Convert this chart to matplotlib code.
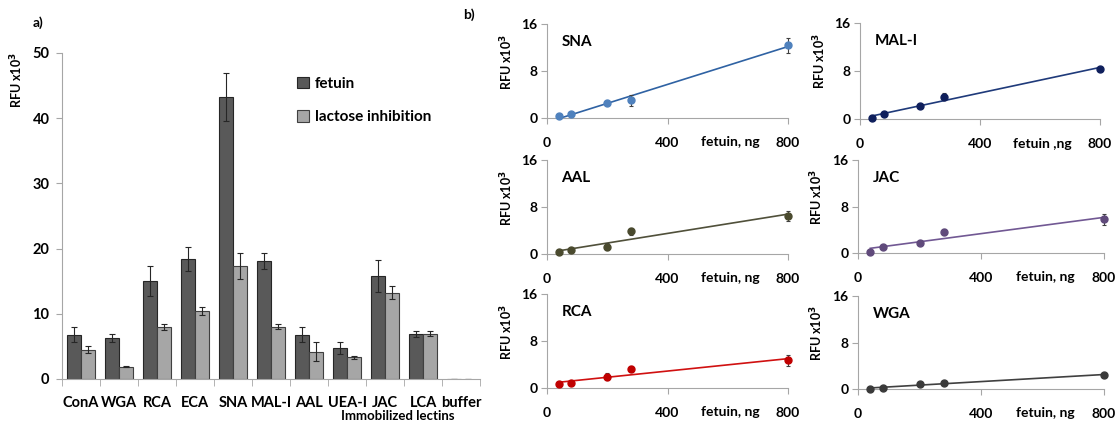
import matplotlib.pyplot as plt
import numpy as np

plt.rcParams["font.family"] = ["Lato", "DejaVu Sans"]
plt.rcParams["font.weight"] = "bold"

# ---- panel a data ----
lectins = ["ConA", "WGA", "RCA", "ECA", "SNA", "MAL-I", "AAL", "UEA-I", "JAC", "LCA", "buffer"]
fetuin = [6.8, 6.3, 15.0, 18.4, 43.3, 18.1, 6.8, 4.7, 15.8, 6.9, 0.05]
fetuin_err = [1.2, 0.6, 2.3, 1.9, 3.7, 1.2, 1.1, 0.9, 2.5, 0.45, 0.0]
lactose = [4.5, 1.9, 8.0, 10.4, 17.4, 8.0, 4.2, 3.3, 13.2, 6.95, 0.0]
lactose_err = [0.5, 0.1, 0.5, 0.6, 2.0, 0.4, 1.45, 0.3, 1.0, 0.4, 0.0]

# ---- panel b data ----
doses = [40, 80, 200, 280, 800]
curves = {
    "SNA": ([0.3, 0.7, 2.5, 3.0, 12.4], [0.2, 0.2, 0.3, 0.9, 1.3]),
    "MAL-I": ([0.2, 0.8, 2.15, 3.75, 8.4], [0.1, 0.1, 0.2, 0.6, 0.3]),
    "AAL": ([0.3, 0.7, 1.2, 3.9, 6.5], [0.1, 0.1, 0.6, 0.6, 0.8]),
    "JAC": ([0.2, 1.0, 1.8, 3.65, 5.8], [0.1, 0.1, 0.2, 0.5, 0.9]),
    "RCA": ([0.6, 0.85, 1.9, 3.2, 4.7], [0.1, 0.1, 0.6, 0.5, 0.9]),
    "WGA": ([0.0, 0.2, 0.85, 1.1, 2.4], [0.05, 0.1, 0.1, 0.1, 0.1]),
}
marker_col = {"SNA": "#4f81bd", "MAL-I": "#0f1f5c", "AAL": "#4a4a2e",
              "JAC": "#604a7b", "RCA": "#c00000", "WGA": "#3a3a3a"}
line_col = {"SNA": "#2f62a3", "MAL-I": "#1f3a7a", "AAL": "#50503a",
            "JAC": "#715893", "RCA": "#d01010", "WGA": "#404040"}
xlab = {"SNA": "fetuin, ng", "MAL-I": "fetuin ,ng", "AAL": "fetuin, ng",
        "JAC": "fetuin, ng", "RCA": "fetuin, ng", "WGA": "fetuin, ng"}

spine_col = "#a6a6a6"
W, H = 1118, 422
fig = plt.figure(figsize=(W / 100, H / 100), dpi=100)


def px(x0, y0, x1, y1):
    return [x0 / W, 1 - y1 / H, (x1 - x0) / W, (y1 - y0) / H]


# ==========================================
# a) bar chart
# ==========================================
ax = fig.add_axes(px(62, 53, 480, 379))
x = np.arange(len(lectins))
bw = 0.36
ebar = dict(ecolor="#262626", elinewidth=0.8, capsize=2, capthick=0.8)
ax.bar(x - bw / 2, fetuin, bw, yerr=fetuin_err, color="#595959", edgecolor="#262626",
       linewidth=0.8, error_kw=ebar, label="fetuin")
lw_lac = [0.8 if v > 0 else 0 for v in lactose]
ax.bar(x + bw / 2, lactose, bw, yerr=lactose_err, color="#a6a6a6", edgecolor="#404040",
       linewidth=lw_lac, error_kw=ebar, label="lactose inhibition")
ax.set_xlim(-0.5, len(lectins) - 0.5)
ax.set_ylim(0, 50)
ax.set_yticks([0, 10, 20, 30, 40, 50])
ax.set_xticks(x)
ax.set_xticklabels(lectins, fontsize=10.5, fontweight="bold")
ax.set_xticks(np.arange(len(lectins) + 1) - 0.5, minor=True)
ax.tick_params(axis="x", which="major", length=0, pad=12)
ax.tick_params(axis="x", which="minor", length=5, color=spine_col, direction="out")
ax.tick_params(axis="y", length=4, color=spine_col, pad=5, labelsize=10.5)
for lab in ax.get_yticklabels():
    lab.set_fontweight("bold")
for s in ["top", "right"]:
    ax.spines[s].set_visible(False)
for s in ["left", "bottom"]:
    ax.spines[s].set_color(spine_col)
ax.legend(loc="upper left", bbox_to_anchor=(0.53, 0.97), frameon=False,
          handlelength=0.75, handleheight=0.75, handletextpad=0.4, labelspacing=1.3,
          prop=dict(size=11, weight="bold"))
fig.text(17 / W, 1 - 80 / H, "RFU x10$^3$", rotation=90, ha="center", va="center",
         fontsize=9, fontweight="bold")
fig.text(33 / W, 1 - 23 / H, "a)", ha="left", va="center", fontsize=10, fontweight="bold")
fig.text(398 / W, 1 - 416 / H, "Immobilized lectins", ha="center", va="center",
         fontsize=9.5, fontweight="bold")

# ==========================================
# b) dose-response panels
# ==========================================
fig.text(463 / W, 1 - 15 / H, "b)", ha="left", va="center", fontsize=10, fontweight="bold")

boxes = {
    "SNA": (547, 24, 788, 118),
    "MAL-I": (860, 23, 1100, 119),
    "AAL": (547, 160, 788, 254),
    "JAC": (858, 160, 1104, 253),
    "RCA": (547, 294, 788, 388),
    "WGA": (858, 296, 1104, 389),
}

for name, (vals, errs) in curves.items():
    b = fig.add_axes(px(*boxes[name]))
    b.errorbar(doses, vals, yerr=errs, fmt="o", ms=5, color=marker_col[name],
               ecolor="#404040", elinewidth=0.8, capsize=1.5, capthick=0.8, zorder=3,
               clip_on=False)
    # linear fit through the points
    k, c = np.polyfit(doses, vals, 1)
    xs = np.array([doses[0], doses[-1]])
    b.plot(xs, k * xs + c, color=line_col[name], lw=1.2, zorder=2)
    b.set_xlim(0, 800)
    b.set_ylim(0, 16)
    b.set_xticks([0, 400, 800])
    b.set_yticks([0, 8, 16])
    b.tick_params(axis="x", length=4, color=spine_col, pad=10, labelsize=10)
    b.tick_params(axis="y", length=4, color=spine_col, pad=3, labelsize=10)
    for lab in b.get_xticklabels() + b.get_yticklabels():
        lab.set_fontweight("bold")
    for s in ["top", "right"]:
        b.spines[s].set_visible(False)
    for s in ["left", "bottom"]:
        b.spines[s].set_color(spine_col)
    b.text(0.06, 0.81, name, transform=b.transAxes, ha="left", va="center",
           fontsize=11, fontweight="bold")
    b.text(0.76, -0.26, xlab[name], transform=b.transAxes, ha="center", va="center",
           fontsize=10, fontweight="bold")
    b.text(-0.166, 0.6, "RFU x10$^3$", transform=b.transAxes, rotation=90,
           ha="center", va="center", fontsize=9, fontweight="bold")

fig.savefig("out.png", dpi=100)
